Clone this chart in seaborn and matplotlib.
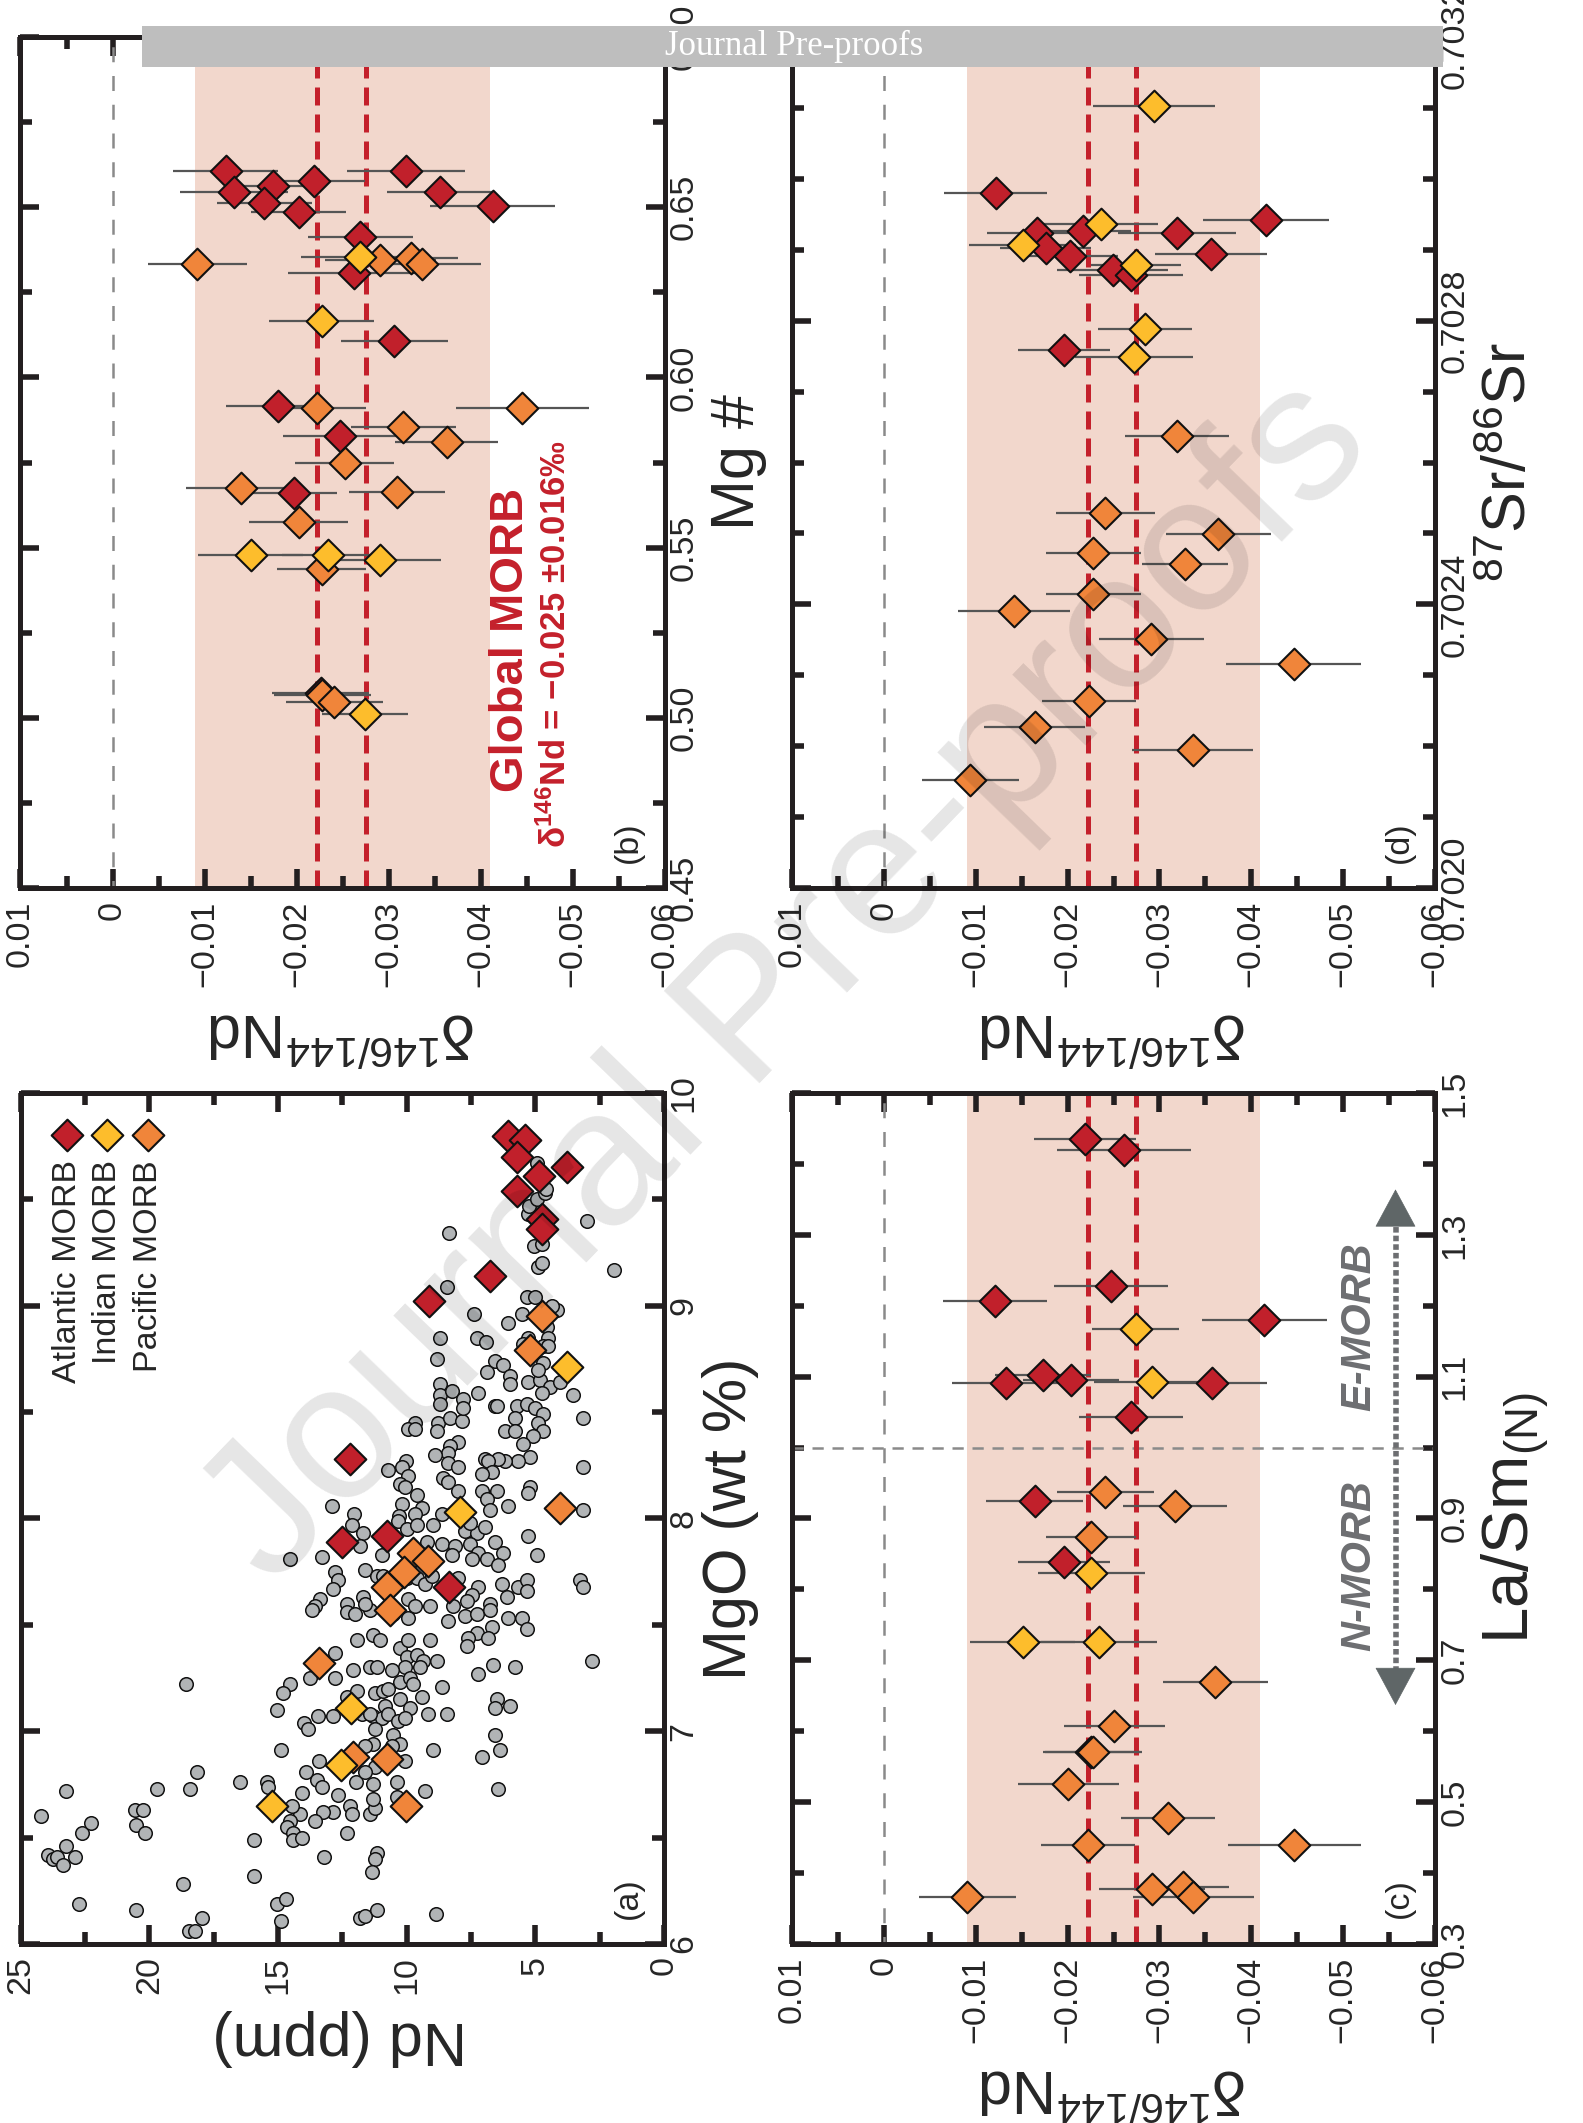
import numpy as np
import pandas as pd
import seaborn as sns
import matplotlib
matplotlib.use("Agg")
import matplotlib.pyplot as plt
from matplotlib.ticker import MultipleLocator, FixedLocator, FuncFormatter
from matplotlib.patches import Rectangle

sns.set_style("white")
plt.rcParams["font.family"] = ["Liberation Sans", "DejaVu Sans"]
plt.rcParams["mathtext.fontset"] = "custom"
plt.rcParams["mathtext.rm"] = "Liberation Sans"
plt.rcParams["mathtext.it"] = "Liberation Sans:italic"
plt.rcParams["mathtext.bf"] = "Liberation Sans:bold"
plt.rcParams["axes.unicode_minus"] = True

# ---------------- data ----------------
# (a) background MORB compilation: Nd (ppm) vs MgO (wt %)
bg_nd = [8.36,8.45,7.38,6.05,8.70,7.28,6.93,8.81,6.57,6.24,6.87,5.98,5.98,5.27,4.82,4.43,4.75,4.04,3.52,3.16,
         2.98,1.93,4.88,4.75,5.05,4.75,5.27,5.23,4.92,4.62,4.59,4.95,5.34,5.01,5.53,4.17,4.37,4.56,4.49,5.27,
         5.47,4.69,4.49,4.69,4.88,8.70,8.70,8.25,7.80,8.70,7.22,6.57,6.50,5.73,5.34,5.01,4.69,5.79,4.88,4.69,
         5.08,6.18,5.79,5.47,5.21,5.66,6.18,6.44,6.96,6.83,6.70,7.09,7.99,8.32,8.38,8.90,8.38,7.99,8.77,8.83,
         8.32,7.86,7.80,9.68,9.94,9.68,10.03,10.20,10.71,9.94,10.26,10.07,9.61,8.58,8.38,7.99,9.42,10.20,8.64,7.09,
         6.50,6.89,6.76,6.05,5.21,5.27,3.13,3.13,12.92,12.05,10.29,9.68,
         12.14,14.53,13.30,12.79,12.66,12.85,13.37,13.56,13.69,12.33,12.33,12.01,11.94,12.79,13.76,12.79,12.07,14.53,14.79,15.05,
         13.99,13.82,13.46,12.85,12.33,11.94,18.58,14.88,13.39,13.91,13.47,13.30,12.66,12.20,12.14,12.85,13.24,13.56,14.08,14.15,
         14.47,14.53,14.66,14.41,14.41,14.08,12.33,13.20,11.97,15.44,15.38,16.48,18.14,18.42,19.72,20.56,20.23,20.52,20.17,22.63,
         22.28,23.25,24.22,23.93,23.73,23.58,23.24,22.89,23.34,22.72,20.52,18.68,17.97,18.45,18.23,15.93,15.93,15.05,14.69,14.88,11.81,
         11.68,10.32,10.00,9.61,8.96,7.73,7.28,6.96,7.54,5.27,4.95,11.81,10.97,9.22,8.64,8.12,7.54,7.22,7.47,6.89,
         6.57,6.24,6.44,8.25,11.62,11.17,10.91,10.00,9.61,9.29,9.03,7.99,7.22,7.47,6.31,6.11,5.66,5.34,5.34,3.26,
         3.13,11.68,11.43,11.62,10.52,9.94,9.94,9.68,9.09,8.38,8.19,7.73,7.28,7.67,6.76,6.76,6.05,5.53,5.34,6.70,
         7.28,7.60,7.67,6.83,11.30,11.04,10.26,9.94,9.09,10.00,9.61,9.35,8.83,9.48,10.07,10.58,11.43,11.17,7.22,6.63,
         5.79,2.78,11.23,10.91,10.71,10.26,9.87,9.74,9.42,8.64,10.26,10.84,11.30,10.97,10.71,10.32,9.87,10.07,9.16,8.45,
         6.50,6.57,5.98,11.75,11.43,11.23,10.52,10.26,10.58,11.30,11.62,6.57,8.96,7.09,6.37,10.07,10.39,10.39,9.29,11.23,
         11.62,11.30,11.43,11.23,11.30,11.17,11.23,11.36,6.44,11.62,11.17,8.86]
bg_mgo = [9.34,9.09,8.96,8.92,8.85,8.85,8.83,8.75,8.74,8.72,8.69,8.67,8.63,8.64,8.65,8.62,8.59,8.64,8.58,8.47,
          9.40,9.17,9.18,9.20,9.28,9.29,9.43,9.47,9.50,9.53,9.55,9.67,9.04,9.04,8.96,8.98,9.00,8.90,8.85,8.85,
          8.82,8.81,8.81,8.73,8.70,8.63,8.58,8.60,8.56,8.54,8.59,8.53,8.53,8.53,8.54,8.52,8.49,8.47,8.45,8.41,
          8.39,8.41,8.41,8.35,8.29,8.27,8.27,8.28,8.28,8.27,8.22,8.21,8.36,8.34,8.31,8.30,8.26,8.24,8.45,8.41,
          8.47,8.46,8.52,8.45,8.42,8.42,8.27,8.24,8.23,8.20,8.16,8.15,8.11,8.19,8.17,8.13,8.05,8.07,8.02,8.13,
          8.13,8.09,8.04,8.06,8.15,8.12,8.24,8.04,8.06,8.02,8.01,8.02,
          7.97,7.81,7.82,7.75,7.71,7.67,7.62,7.59,7.57,7.60,7.56,7.55,7.43,7.37,7.25,7.25,7.29,7.22,7.18,7.10,
          7.04,7.01,7.07,7.07,7.16,7.19,7.22,6.91,6.86,6.81,6.77,6.74,6.70,6.65,6.61,6.62,6.62,6.58,6.71,6.61,
          6.65,6.58,6.55,6.52,6.49,6.50,6.52,6.41,6.76,6.76,6.74,6.76,6.81,6.73,6.73,6.63,6.63,6.56,6.52,6.52,
          6.57,6.72,6.60,6.42,6.40,6.41,6.46,6.41,6.37,6.19,6.16,6.28,6.12,6.06,6.06,6.49,6.32,6.19,6.21,6.11,6.12,
          7.93,7.99,7.95,7.97,7.97,7.94,7.93,7.96,7.98,7.92,7.83,7.87,7.83,7.89,7.88,7.87,7.88,7.84,7.81,7.81,
          7.89,7.84,7.78,7.83,7.76,7.73,7.73,7.72,7.72,7.69,7.73,7.72,7.68,7.64,7.69,7.63,7.68,7.71,7.66,7.71,
          7.68,7.63,7.57,7.60,7.55,7.62,7.53,7.59,7.59,7.52,7.59,7.54,7.55,7.61,7.60,7.57,7.53,7.53,7.48,7.49,
          7.46,7.44,7.40,7.44,7.45,7.43,7.39,7.43,7.43,7.35,7.36,7.33,7.33,7.30,7.30,7.29,7.30,7.30,7.27,7.31,
          7.30,7.33,7.18,7.19,7.20,7.23,7.25,7.22,7.16,7.21,7.15,7.12,7.07,7.06,7.08,7.05,7.11,7.06,7.08,7.08,
          7.15,7.11,7.12,7.08,7.08,7.01,6.98,6.94,6.93,6.94,6.93,6.98,6.91,6.88,6.91,6.86,6.76,6.69,6.72,6.83,
          6.81,6.75,6.61,6.64,6.68,6.43,6.40,6.34,6.73,6.13,6.16,6.14]

# (a) this study
a_atl_nd = [6.05,5.40,5.73,3.76,4.84,5.73,4.73,4.73,6.76,9.14,12.20,12.50,10.75,8.34]
a_atl_mgo = [9.80,9.78,9.70,9.65,9.61,9.54,9.41,9.36,9.14,9.02,8.28,7.89,7.92,7.68]
a_ind_nd = [3.76,7.92,12.18,12.56,15.25]
a_ind_mgo = [8.71,8.03,7.11,6.84,6.65]
a_pac_nd = [4.73,5.21,4.04,13.39,12.07,9.74,9.16,10.10,10.75,10.65,10.75,10.03]
a_pac_mgo = [8.95,8.79,8.05,7.32,6.88,7.84,7.80,7.75,7.68,7.57,6.87,6.65]

# (b) Mg#
b_atl_mg = [0.6605,0.6577,0.6605,0.6546,0.6561,0.6546,0.6513,0.6486,0.6505,0.6413,0.6306,0.6107,0.5916,0.5828,0.5659,0.5072]
b_atl_d = [-0.0123,-0.0219,-0.0319,-0.0132,-0.0174,-0.0356,-0.0165,-0.0202,-0.0413,-0.0269,-0.0262,-0.0306,-0.0180,-0.0247,-0.0197,-0.0226]
b_atl_e = [0.0057,0.0055,0.0064,0.0059,0.0050,0.0058,0.0052,0.0052,0.0068,0.0057,0.0071,0.0058,0.0057,0.0062,0.0047,0.0053]
b_ind_mg = [0.6354,0.6167,0.5477,0.5477,0.5463,0.5012]
b_ind_d = [-0.0269,-0.0227,-0.0150,-0.0234,-0.0291,-0.0274]
b_ind_e = [0.0064,0.0057,0.0057,0.0050,0.0066,0.0047]
b_pac_mg = [0.6346,0.6352,0.6333,0.6333,0.5909,0.5909,0.5855,0.5809,0.5750,0.5676,0.5664,0.5575,0.5438,0.5066,0.5046]
b_pac_d = [-0.0291,-0.0324,-0.0336,-0.0092,-0.0222,-0.0445,-0.0316,-0.0363,-0.0252,-0.0139,-0.0309,-0.0202,-0.0227,-0.0228,-0.0241]
b_pac_e = [0.0060,0.0051,0.0064,0.0054,0.0053,0.0072,0.0057,0.0056,0.0054,0.0059,0.0052,0.0054,0.0048,0.0053,0.0053]

# (c) La/Sm(N)
c_atl_ls = [1.435,1.419,1.228,1.206,1.180,1.091,1.103,1.095,1.091,1.043,0.925,0.839,0.571]
c_atl_d = [-0.0219,-0.0261,-0.0247,-0.0121,-0.0414,-0.0133,-0.0173,-0.0204,-0.0357,-0.0269,-0.0164,-0.0196,-0.0226]
c_atl_e = [0.0056,0.0073,0.0062,0.0057,0.0068,0.0059,0.0052,0.0052,0.0060,0.0057,0.0053,0.0050,0.0053]
c_ind_ls = [1.167,1.093,0.823,0.726,0.726]
c_ind_d = [-0.0274,-0.0292,-0.0226,-0.0151,-0.0234]
c_ind_e = [0.0047,0.0063,0.0058,0.0057,0.0063]
c_pac_ls = [0.937,0.918,0.874,0.669,0.608,0.571,0.525,0.478,0.439,0.439,0.366,0.378,0.381,0.366]
c_pac_d = [-0.0241,-0.0317,-0.0226,-0.0361,-0.0251,-0.0228,-0.0201,-0.0309,-0.0222,-0.0447,-0.0091,-0.0292,-0.0326,-0.0337]
c_pac_e = [0.0053,0.0057,0.0049,0.0057,0.0055,0.0053,0.0055,0.0051,0.0051,0.0072,0.0053,0.0058,0.0050,0.0066]

# (d) 87Sr/86Sr
d_atl_sr = [0.702980,0.702942,0.702926,0.702923,0.702923,0.702902,0.702891,0.702894,0.702871,0.702864,0.702759]
d_atl_d = [-0.0122,-0.0416,-0.0217,-0.0167,-0.0319,-0.0176,-0.0203,-0.0356,-0.0249,-0.0269,-0.0196]
d_atl_e = [0.0056,0.0069,0.0052,0.0055,0.0064,0.0050,0.0052,0.0061,0.0060,0.0057,0.0050]
d_ind_sr = [0.703103,0.702936,0.702907,0.702878,0.702788,0.702749]
d_ind_d = [-0.0294,-0.0236,-0.0151,-0.0274,-0.0284,-0.0272]
d_ind_e = [0.0066,0.0062,0.0058,0.0049,0.0051,0.0064]
d_pac_sr = [0.702637,0.702529,0.702499,0.702473,0.702457,0.702415,0.702390,0.702351,0.702316,0.702264,0.702227,0.702195,0.702152]
d_pac_d = [-0.0319,-0.0241,-0.0364,-0.0228,-0.0328,-0.0228,-0.0142,-0.0291,-0.0446,-0.0223,-0.0164,-0.0336,-0.0094]
d_pac_e = [0.0057,0.0054,0.0057,0.0052,0.0047,0.0052,0.0061,0.0057,0.0073,0.0051,0.0055,0.0066,0.0053]

morb_band = (-0.041, -0.009)
morb_dash = [-0.0222, -0.0275]
groups = ["Atlantic MORB", "Indian MORB", "Pacific MORB"]

# ---------------- style ----------------
RED = "#C1202B"
YEL = "#FDBD2C"
ORA = "#F0853A"
GRY = "#B1B4B6"
BAND = "#F2D7CC"
INK = "#231F20"
TXTRED = "#C4202B"
DGRAY = "#6D6E71"
DS = 260
TICK_FS = 24.5
LAB_FS = 44

fig = plt.figure(figsize=(15.83, 21.23), dpi=100)
ax_a = fig.add_axes([0.01308, 0.08432, 0.4064, 0.40085])
ax_b = fig.add_axes([0.01295, 0.58172, 0.4071, 0.40085])
ax_c = fig.add_axes([0.50032, 0.08432, 0.40619, 0.40085])
ax_d = fig.add_axes([0.50032, 0.58172, 0.40619, 0.40085])


def fmt_delta(v, pos):
    if abs(v) < 1e-9:
        return "0"
    return ("%.2f" % v).replace("-", "\u2212")


def style_axes(ax):
    for sp in ax.spines.values():
        sp.set_linewidth(3.6)
        sp.set_color(INK)
    ax.tick_params(which="both", direction="in", top=True, right=True, bottom=True, left=True,
                   labelbottom=True, labelright=True, labelleft=False, labeltop=False,
                   color=INK, width=4)
    ax.tick_params(which="major", length=14)
    ax.tick_params(which="minor", length=8.5)
    ax.tick_params(axis="x", labelrotation=90, pad=9, labelsize=TICK_FS)
    ax.tick_params(axis="y", labelrotation=90, pad=3, labelsize=TICK_FS)
    ax.grid(False)
    ax.set_facecolor("white")


def finish_ylabels(ax):
    for t in ax.yaxis.get_major_ticks():
        t.label2.set_verticalalignment("center")


def delta_panel(ax, yvals, dvals, evals, ylim, yfmt, ymaj, ymin, letter):
    # yvals / dvals / evals ordered as groups: Atlantic, Indian, Pacific
    ax.axvspan(morb_band[0], morb_band[1], color=BAND, lw=0, zorder=0)
    ax.axvline(0, color="#8A8A8A", lw=1.8, ls=(3, (6, 5.5)), zorder=1)
    for v in morb_dash:
        ax.axvline(v, color=TXTRED, lw=3.6, ls=(0, (3.6, 1.8)), zorder=1.5)
    cols = [RED, YEL, ORA]
    order = [0, 2, 1]
    for i in order:
        ax.errorbar(dvals[i], yvals[i], xerr=evals[i], fmt="none", ecolor="#555555",
                    elinewidth=1.6, capsize=0, zorder=2)
    for i in order:
        sns.scatterplot(x=dvals[i], y=yvals[i], ax=ax, marker="D", s=DS, color=cols[i],
                        edgecolor="#111111", linewidth=1.5, zorder=3, legend=False)
    ax.set_xlim(0.01, -0.06)
    ax.set_ylim(*ylim)
    ax.xaxis.set_major_locator(MultipleLocator(0.01))
    ax.xaxis.set_minor_locator(MultipleLocator(0.005))
    ax.xaxis.set_major_formatter(FuncFormatter(fmt_delta))
    if isinstance(ymaj, list):
        ax.yaxis.set_major_locator(FixedLocator(ymaj))
        ax.yaxis.set_minor_locator(FixedLocator(ymin))
    else:
        ax.yaxis.set_major_locator(MultipleLocator(ymaj))
        ax.yaxis.set_minor_locator(MultipleLocator(ymin))
    ax.yaxis.set_major_formatter(FuncFormatter(lambda v, p: yfmt % v))
    style_axes(ax)
    ax.set_xlabel("")
    ax.set_ylabel("")
    finish_ylabels(ax)
    ax.text(0.5, -0.166, r"δ$^{146/144}$Nd", transform=ax.transAxes, rotation=180,
            ha="center", va="center", fontsize=LAB_FS)
    ax.text(0.944, 0.054, letter, transform=ax.transAxes, rotation=90,
            ha="center", va="center", fontsize=TICK_FS)


# ---------- panel (a) ----------
sns.scatterplot(x=bg_nd, y=bg_mgo, ax=ax_a, marker="o", s=95, color=GRY,
                edgecolor="#111111", linewidth=1.1, zorder=2, legend=False)
for xs, ys, c in [(a_atl_nd, a_atl_mgo, RED), (a_pac_nd, a_pac_mgo, ORA), (a_ind_nd, a_ind_mgo, YEL)]:
    sns.scatterplot(x=xs, y=ys, ax=ax_a, marker="D", s=DS, color=c,
                    edgecolor="#111111", linewidth=1.5, zorder=3, legend=False)
ax_a.set_xlim(25, 0)
ax_a.set_ylim(6, 10)
ax_a.xaxis.set_major_locator(MultipleLocator(5))
ax_a.xaxis.set_minor_locator(MultipleLocator(2.5))
ax_a.yaxis.set_major_locator(MultipleLocator(1))
ax_a.yaxis.set_minor_locator(MultipleLocator(0.5))
ax_a.xaxis.set_major_formatter(FuncFormatter(lambda v, p: "%d" % round(v)))
ax_a.yaxis.set_major_formatter(FuncFormatter(lambda v, p: "%d" % round(v)))
style_axes(ax_a)
ax_a.set_xlabel("")
ax_a.set_ylabel("")
finish_ylabels(ax_a)
ax_a.text(0.496, -0.110, "Nd (ppm)", transform=ax_a.transAxes, rotation=180,
          ha="center", va="center", fontsize=LAB_FS)
ax_a.text(1.104, 0.5, "MgO (wt %)", transform=ax_a.transAxes, rotation=90,
          ha="center", va="center", fontsize=LAB_FS)
ax_a.text(0.944, 0.054, "(a)", transform=ax_a.transAxes, rotation=90,
          ha="center", va="center", fontsize=TICK_FS)
# legend
for xf, c, name in zip([0.0715, 0.134, 0.198], [RED, YEL, ORA], groups):
    ax_a.scatter([xf], [0.951], transform=ax_a.transAxes, marker="D", s=DS, color=c,
                 edgecolor="#111111", linewidth=1.5, zorder=4, clip_on=False)
    ax_a.text(xf + 0.001, 0.921, name, transform=ax_a.transAxes, rotation=90,
              ha="center", va="top", fontsize=TICK_FS)

# ---------- panel (b) ----------
delta_panel(ax_b, [b_atl_mg, b_ind_mg, b_pac_mg], [b_atl_d, b_ind_d, b_pac_d],
            [b_atl_e, b_ind_e, b_pac_e], (0.45, 0.70), "%.2f", 0.05, 0.025, "(b)")
ax_b.text(1.114, 0.5, "Mg #", transform=ax_b.transAxes, rotation=90,
          ha="center", va="center", fontsize=LAB_FS)
ax_b.text(0.761, 0.291, "Global MORB", transform=ax_b.transAxes, rotation=90,
          ha="center", va="center", fontsize=34, fontweight="bold", color=TXTRED)
ax_b.text(0.831, 0.287, r"δ$^{\mathbf{146}}$Nd = −0.025 ±0.016‰", transform=ax_b.transAxes,
          rotation=90, ha="center", va="center", fontsize=25, fontweight="bold", color=TXTRED)

# ---------- panel (c) ----------
delta_panel(ax_c, [c_atl_ls, c_ind_ls, c_pac_ls], [c_atl_d, c_ind_d, c_pac_d],
            [c_atl_e, c_ind_e, c_pac_e], (0.3, 1.5), "%.1f",
            [0.3, 0.5, 0.7, 0.9, 1.1, 1.3, 1.5], [0.4, 0.6, 0.8, 1.0, 1.2, 1.4], "(c)")
ax_c.axhline(1.0, color="#8A8A8A", lw=1.8, ls=(0, (4.5, 3.5)), zorder=1)
arrow_x = -0.0557
ax_c.plot([arrow_x, arrow_x], [0.66, 1.34], color=DGRAY, lw=4, ls=(0, (1, 0.55)),
          zorder=2, solid_capstyle="butt")
for y0, y1 in [(1.32, 1.368), (0.68, 0.633)]:
    ax_c.annotate("", xy=(arrow_x, y1), xytext=(arrow_x, y0),
                  arrowprops=dict(arrowstyle="-|>,head_length=1.3,head_width=0.7",
                                  color="#5F6667", lw=0.5, mutation_scale=20))
ax_c.text(0.882, 0.725, "E-MORB", transform=ax_c.transAxes, rotation=90, ha="center",
          va="center", fontsize=30, fontweight="bold", fontstyle="italic", color=DGRAY)
ax_c.text(0.882, 0.445, "N-MORB", transform=ax_c.transAxes, rotation=90, ha="center",
          va="center", fontsize=30, fontweight="bold", fontstyle="italic", color=DGRAY)
ax_c.text(1.126, 0.5, r"La/Sm$_{\rm (N)}$", transform=ax_c.transAxes, rotation=90,
          ha="center", va="center", fontsize=47)

# ---------- panel (d) ----------
delta_panel(ax_d, [d_atl_sr, d_ind_sr, d_pac_sr], [d_atl_d, d_ind_d, d_pac_d],
            [d_atl_e, d_ind_e, d_pac_e], (0.7020, 0.7032), "%.4f", 0.0004, 0.0001, "(d)")
ax_d.text(1.117, 0.5, r"$^{87}$Sr/$^{86}$Sr", transform=ax_d.transAxes, rotation=90,
          ha="center", va="center", fontsize=LAB_FS)

# ---------- journal banner and watermark ----------
fig.text(0.4978, 0.5374, "Journal Pre-proofs", rotation=46, fontsize=139,
         color=(0, 0, 0, 0.10), ha="center", va="center", rotation_mode="anchor", zorder=20)
fig.patches.append(Rectangle((0.0897, 0.96844), 0.8219, 0.01931, transform=fig.transFigure,
                             facecolor="#BEBEBE", edgecolor="none", zorder=30))
fig.text(0.5016, 0.9781, "Journal Pre-proofs", fontsize=25, color="white",
         family=["Liberation Serif", "DejaVu Serif"], ha="center", va="center", zorder=31)

fig.savefig("out.png", dpi=100)
